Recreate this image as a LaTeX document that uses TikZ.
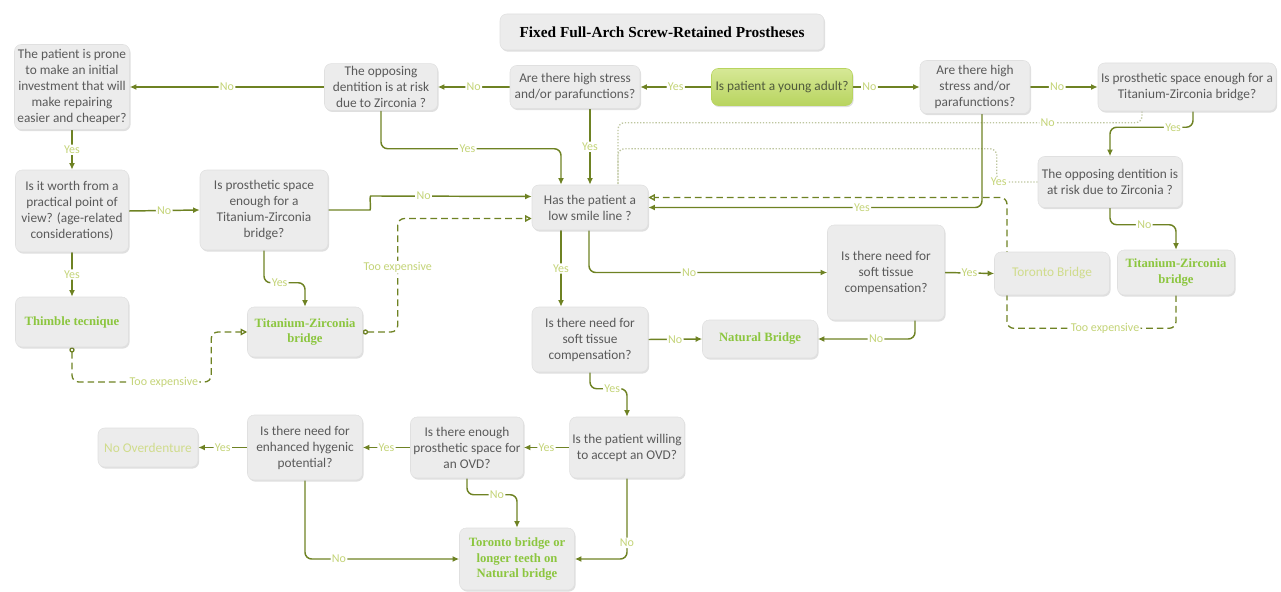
\documentclass[tikz,border=0pt]{standalone}
\usepackage{fontspec}
\setmainfont{Carlito}
\newfontfamily\serifbold{Liberation Serif}
\usetikzlibrary{arrows.meta,calc,shadows,backgrounds}
\definecolor{lineg}{RGB}{110,130,35}
\definecolor{labg}{RGB}{196,212,120}
\definecolor{boxf}{RGB}{236,236,236}
\definecolor{boxd}{RGB}{224,224,224}
\definecolor{txt}{RGB}{90,90,90}
\definecolor{greent}{RGB}{140,198,63}
\definecolor{fadet}{RGB}{208,220,140}
\definecolor{dotg}{RGB}{190,198,160}
\definecolor{ytop}{RGB}{214,232,150}
\definecolor{ybot}{RGB}{184,212,95}
\tikzset{
 sz/.style 2 args={minimum width=#1*0.75pt, minimum height=#2*0.75pt},
 box/.style={draw=boxd, fill=boxf, rounded corners=5pt, align=center, inner sep=2pt, text=txt,
   font=\fontsize{10}{12}\selectfont,
   drop shadow={opacity=0.25, shadow xshift=0.8pt, shadow yshift=-1.2pt}},
 result/.style={box, font=\serifbold\bfseries\fontsize{9.5}{11.5}\selectfont, text=greent},
 faded/.style={box, text=fadet},
 conn/.style={draw=lineg, line width=1.1pt, rounded corners=5pt, -{Latex[length=5pt,width=4.5pt]}},
 lab/.style={fill=white, text=labg, font=\fontsize{9}{10}\selectfont, inner sep=1pt},
 dashconn/.style={draw=lineg, line width=1pt, dash pattern=on 5pt off 3pt, rounded corners=5pt},
 dotconn/.style={draw=dotg, line width=1pt, dash pattern=on 1pt off 1.3pt, rounded corners=5pt},
}
\begin{document}
\begin{tikzpicture}[x=0.75pt,y=-0.75pt]
\useasboundingbox (0,0) rectangle (1281,592);
% title
\node[box, sz={324}{36}, text=black, font=\serifbold\bfseries\fontsize{11.5}{13}\selectfont] (title) at (662,32) {Fixed Full-Arch Screw-Retained Prostheses};
% row 1
\node[box, sz={115}{85}] (P1) at (72,87) {The patient is prone\\to make an initial\\investment that will\\make repairing\\easier and cheaper?};
\node[box, sz={113}{45}] (O1) at (381,87) {The opposing\\dentition is at risk\\due to Zirconia ?};
\node[box, sz={130}{43}] (S1) at (575,87) {Are there high stress\\and/or parafunctions?};
\node[box, sz={141}{37}, draw=ybot, top color=ytop, bottom color=ybot, text={rgb,255:red,80;green,90;blue,60}] (Y) at (782,87) {Is patient a young adult?};
\node[box, sz={110}{53}] (S2) at (975,87) {Are there high\\stress and/or\\parafunctions?};
\node[box, sz={178}{48}] (T1) at (1187,87) {Is prosthetic space enough for a\\Titanium-Zirconia bridge?};
% row 2
\node[box, sz={113}{82}] (W) at (72,211) {Is it worth from a\\practical point of\\view? (age-related\\considerations)};
\node[box, sz={128}{80}] (T2) at (264,210) {Is prosthetic space\\enough for a\\Titanium-Zirconia\\bridge?};
\node[box, sz={116}{45}] (L) at (590,207.5) {Has the patient a\\low smile line ?};
\node[box, sz={144}{51}] (O2) at (1110,182) {The opposing dentition is\\at risk due to Zirconia ?};
% row 3
\node[result, sz={113}{50}] (TH) at (72,322) {Thimble tecnique};
\node[result, sz={115}{50}] (TZ1) at (305,332) {Titanium-Zirconia\\bridge};
\node[box, sz={116}{65}] (ST1) at (590,339.5) {Is there need for\\soft tissue\\compensation?};
\node[result, sz={115}{38}] (NB) at (760,339) {Natural Bridge};
\node[box, sz={117}{95}] (ST2) at (886,272.5) {Is there need for\\soft tissue\\compensation?};
\node[faded, sz={115}{43}] (TB) at (1052,273.5) {Toronto Bridge};
\node[result, sz={117}{45}] (TZ2) at (1176,272.5) {Titanium-Zirconia\\bridge};
% row 4
\node[faded, sz={100}{39}] (NO) at (148,447.5) {No Overdenture};
\node[box, sz={115}{65}] (H) at (305,447.5) {Is there need for\\enhanced hygenic\\potential?};
\node[box, sz={113}{61}] (E) at (467,447.5) {Is there enough\\prosthetic space for\\an OVD?};
\node[box, sz={113}{61}] (W2) at (627,447.5) {Is the patient willing\\to accept an OVD?};
% row 5
\node[result, sz={115}{62}] (TR) at (517,559) {Toronto bridge or\\longer teeth on\\Natural bridge};

\begin{pgfonlayer}{background}
% dotted faint connectors
\draw[dotconn] ($(T1.south)+(-45,0)$) |- node[lab,pos=0.59]{No} ($(L.north)+(28,-62)$) -- ($(L.north)+(28,0)$);
\draw[dotconn] (O2.west) -- node[lab,pos=0.95]{Yes} ++(-41,0) |- ($(L.north)+(28,-36)$) -- ($(L.north)+(28,0)$);
% top row
\draw[conn] (Y.west) -- node[lab]{Yes} (S1.east);
\draw[conn] (S1.west) -- node[lab]{No} (O1.east);
\draw[conn] (O1.west) -- node[lab]{No} (P1.east);
\draw[conn] (Y.east) -- node[lab,pos=0.25]{No} (S2.west);
\draw[conn] (S2.east) -- node[lab,pos=0.4]{No} (T1.west);
\draw[conn] (P1.south) -- node[lab]{Yes} (W.north);
\draw[conn] (W.south) -- node[lab]{Yes} (TH.north);
\draw[conn] (W.east) -- node[lab]{No} (T2.west);
\draw[conn] (T2.east) -- ++(35,0) to[out=0,in=180] ++(14,-14) -- node[lab,pos=0.3]{No} ($(L.west)+(0,-11)$);
\draw[conn] (T2.south) |- node[lab,pos=0.69]{Yes} ($(TZ1.north)+(0,-24)$) -- (TZ1.north);
\draw[conn] (O1.south) |- node[lab,pos=0.74]{Yes} ($(L.north)+(-29,-36)$) -- ($(L.north)+(-29,0)$);
\draw[conn] ($(S1.south)+(15,0)$) -- node[lab]{Yes} (L.north);
\draw[conn] ($(L.south)+(-29,0)$) -- node[lab]{Yes} ($(ST1.north)+(-29,0)$);
\draw[conn] ($(L.south)+(-1,0)$) |- node[lab,pos=0.71]{No} (ST2.west);
\draw[conn] (ST1.east) -- node[lab]{No} (NB.west);
\draw[conn] ($(ST2.south)+(29,0)$) |- node[lab,pos=0.7]{No} (NB.east);
\draw[conn] (ST2.east) -- node[lab]{Yes} (TB.west);
\draw[conn] ($(S2.south)+(7,0)$) |- node[lab,pos=0.68]{Yes} (L.east);
\draw[conn] ($(T1.south)+(6,0)$) |- node[lab,pos=0.62]{Yes} ($(O2.north)+(0,-29)$) -- (O2.north);
\draw[conn] (O2.south) |- node[lab,pos=0.76]{No} ($(TZ2.north)+(0,-25)$) -- (TZ2.north);
% bottom
\draw[conn] (ST1.south) |- node[lab,pos=0.8]{Yes} ($(W2.north)+(0,-28)$) -- (W2.north);
\draw[conn] (W2.west) -- node[lab]{Yes} (E.east);
\draw[conn] (E.west) -- node[lab]{Yes} (H.east);
\draw[conn] (H.west) -- node[lab]{Yes} (NO.east);
\draw[conn] (E.south) |- node[lab,pos=0.8]{No} ($(TR.north)+(0,-33)$) -- (TR.north);
\draw[conn] (W2.south) |- node[lab,pos=0.4]{No} (TR.east);
\draw[conn] (H.south) |- node[lab,pos=0.61]{No} (TR.west);
% dashed "too expensive"
\draw[dashconn, {Circle[open,length=4pt]}-{Triangle[open,length=5pt,width=5pt]}] (TH.south) |- node[lab,pos=0.83]{Too expensive} ($(TZ1.west)+(-36,50)$) |- (TZ1.west);
\draw[dashconn, {Circle[open,length=4pt]}-{Triangle[open,length=5pt,width=5pt]}] (TZ1.east) -| node[lab,pos=0.785]{Too expensive} ($(L.west)+(-134,11)$) -- ($(L.west)+(0,11)$);
\draw[dashconn, -{Triangle[open,length=5pt,width=5pt]}] (TZ2.south) |- node[lab,pos=0.71]{Too expensive} ($(TB.south)+(-45,33)$) |- ($(L.east)+(0,-10)$);
\end{pgfonlayer}
\end{tikzpicture}
\end{document}
